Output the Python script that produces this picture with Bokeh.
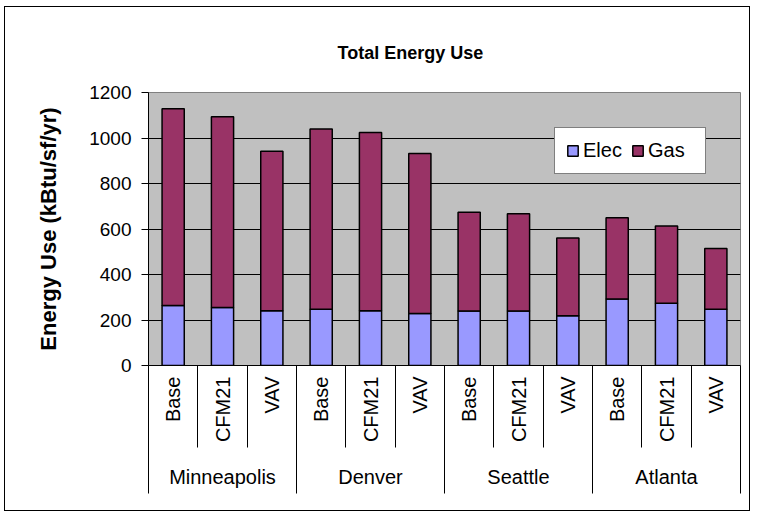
import math
from bokeh.plotting import figure
from bokeh.models import (Range1d, LinearAxis, FixedTicker,
                          ColumnDataSource, Legend, LegendItem, Title)
from bokeh.embed import file_html
from bokeh.resources import INLINE

# ---- data ----
cities = ["Minneapolis", "Denver", "Seattle", "Atlanta"]
variants = ["Base", "CFM21", "VAV"]
elec = [264, 255, 241, 247, 241, 229, 240, 240, 219, 292, 274, 247]
gas = [865, 838, 701, 793, 783, 703, 434, 427, 341, 357, 339, 267]
y_ticks = [0, 200, 400, 600, 800, 1000, 1200]
series = ["Elec", "Gas"]
colors = ["#9999FF", "#993366"]

factors = [(c, v) for c in cities for v in variants]
n = len(factors)
nv = len(variants)
centers = [i + 0.5 for i in range(n)]
bounds = [float(i) for i in range(n + 1)]

source = ColumnDataSource(data=dict(x=centers, Elec=elec, Gas=gas))

FONT = "Liberation Sans"

p = figure(width=746, height=505, output_backend="svg", toolbar_location=None,
           x_range=Range1d(0, n), y_range=Range1d(0, y_ticks[-1]), x_axis_location=None,
           min_border_left=143, min_border_right=11, min_border_top=85, min_border_bottom=147)
p.styles = {"border": "1px solid black", "margin-left": "4px", "margin-top": "6px"}
p.background_fill_color = "#C0C0C0"
p.border_fill_color = "white"
p.outline_line_color = "#808080"
p.outline_line_width = 1

renderers = p.vbar_stack(series, x="x", width=0.45, source=source, color=colors,
                         line_color="black", line_width=1.5)

p.xgrid.visible = False
p.ygrid.ticker = FixedTicker(ticks=y_ticks[1:-1])
p.ygrid.grid_line_color = "black"
p.ygrid.grid_line_width = 1

# y axis
ya = p.yaxis[0]
ya.ticker = FixedTicker(ticks=y_ticks)
ya.axis_label = "Energy Use (kBtu/sf/yr)"
ya.axis_label_text_font = FONT
ya.axis_label_text_font_style = "bold"
ya.axis_label_text_font_size = "22px"
ya.axis_label_text_color = "black"
ya.axis_label_standoff = 25
ya.major_label_text_font = FONT
ya.major_label_text_font_size = "19px"
ya.major_label_text_color = "black"
ya.major_label_standoff = 10
ya.major_tick_in = 0
ya.major_tick_out = 7
ya.minor_tick_line_color = None
ya.axis_line_color = "black"
ya.major_tick_line_color = "black"

sub_labels = {c: f[1] for c, f in zip(centers, factors)}

ax1 = LinearAxis(ticker=FixedTicker(ticks=centers, minor_ticks=bounds),
                 major_label_overrides=sub_labels)
ax1.major_label_orientation = math.pi / 2
ax1.major_label_text_font = FONT
ax1.major_label_text_font_size = "20px"
ax1.major_label_text_color = "black"
ax1.major_label_standoff = 11 - 82
ax1.major_tick_in = 0
ax1.major_tick_out = 0
ax1.minor_tick_in = 0
ax1.minor_tick_out = 82
ax1.minor_tick_line_color = "black"
ax1.axis_line_color = "black"
p.add_layout(ax1, "below")

g_centers = [i * nv + nv / 2 for i in range(len(cities))]
g_bounds = [float(i * nv) for i in range(len(cities) + 1)]
grp_labels = {c: name for c, name in zip(g_centers, cities)}

ax2 = LinearAxis(ticker=FixedTicker(ticks=g_centers, minor_ticks=g_bounds),
                 major_label_overrides=grp_labels)
ax2.major_label_text_font = FONT
ax2.major_label_text_font_size = "20px"
ax2.major_label_text_color = "black"
ax2.major_label_standoff = 20 - 48
ax2.major_tick_in = 0
ax2.major_tick_out = 0
ax2.minor_tick_in = 0
ax2.minor_tick_out = 48
ax2.minor_tick_line_color = "black"
ax2.axis_line_color = None
p.add_layout(ax2, "below")

# title
p.title = Title(text="Total Energy Use", text_font=FONT, text_font_style="bold",
                text_font_size="18px", text_color="black",
                align="left", offset=189, standoff=60)

# legend
legend = Legend(items=[LegendItem(label=s, renderers=[r]) for s, r in zip(series, renderers)],
                orientation="horizontal", location=(406, 191),
                label_text_font=FONT, label_text_font_size="20px", label_text_color="black",
                glyph_width=13, glyph_height=13, label_standoff=4, spacing=2,
                label_width=46, padding=11, margin=0,
                border_line_color="black", border_line_width=1,
                background_fill_color="white", background_fill_alpha=1)
p.add_layout(legend, "center")

open("out.html", "w").write(file_html(p, INLINE))
